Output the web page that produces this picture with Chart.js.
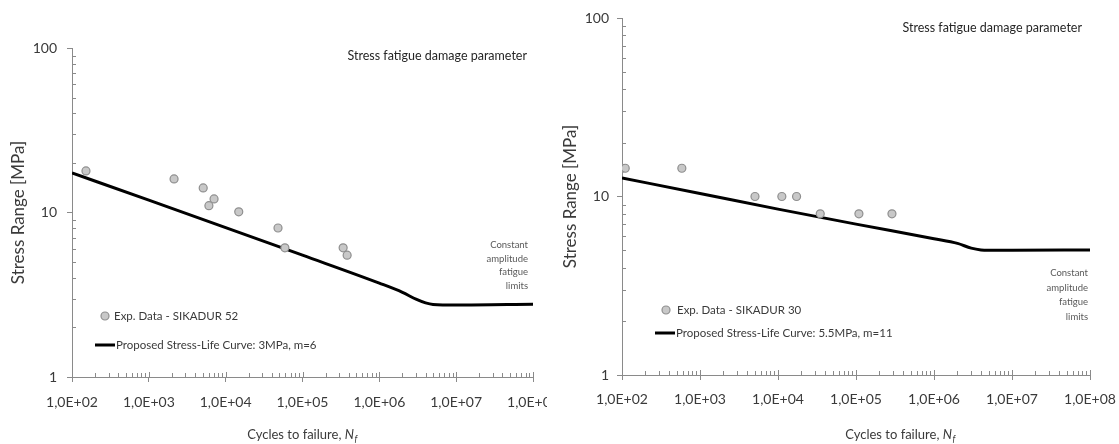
<!DOCTYPE html>
<html><head><meta charset="utf-8">
<script src="https://cdn.jsdelivr.net/npm/chart.js@4.4.1/dist/chart.umd.min.js"></script>
<style>
html,body{margin:0;padding:0;background:#fff;width:1119px;height:444px;overflow:hidden}
#wl{position:absolute;left:0;top:0;width:547px;height:444px;overflow:hidden}
#wr{position:absolute;left:560px;top:0;width:559px;height:444px}
canvas{display:block}
</style></head><body>
<div id="wl"><canvas id="cl" width="560" height="444"></canvas></div>
<div id="wr"><canvas id="cr" width="559" height="444"></canvas></div>
<script>
// ---- data ----
const xTickValues = [1e2, 1e3, 1e4, 1e5, 1e6, 1e7, 1e8];
const xTickLabels = ['1,0E+02', '1,0E+03', '1,0E+04', '1,0E+05', '1,0E+06', '1,0E+07', '1,0E+08'];
const yTickValues = [1, 10, 100];
const yTickLabels = ['1', '10', '100'];

const leftExpCycles = [152, 2130, 5100, 7060, 6050, 14800, 48000, 59000, 338000, 381000];
const leftExpStress = [17.9, 16.0, 14.1, 12.1, 11.0, 10.1, 8.05, 6.1, 6.1, 5.5];
const leftCurveCycles = [1e2, 1e3, 1e4, 1e5, 1e6, 2e6, 3e6, 4e6, 5e6, 1e7, 1e8];
const leftCurveStress = [17.4, 11.9, 8.1, 5.5, 3.72, 3.27, 2.97, 2.82, 2.76, 2.74, 2.77];

const rightExpCycles = [100, 110, 585, 5070, 11200, 17300, 34800, 109000, 289000];
const rightExpStress = [14.4, 14.4, 14.4, 10.0, 10.0, 10.0, 8.0, 8.0, 8.0];
const rightCurveCycles = [1e2, 1e3, 1e4, 1e5, 1e6, 2e6, 3e6, 4e6, 5e6, 1e7, 1e8];
const rightCurveStress = [12.7, 10.4, 8.5, 7.0, 5.8, 5.46, 5.14, 5.02, 5.0, 5.0, 5.02];

const leftLabels = ['Exp. Data - SIKADUR 52', 'Proposed Stress-Life Curve: 3MPa, m=6'];
const rightLabels = ['Exp. Data - SIKADUR 30', 'Proposed Stress-Life Curve: 5.5MPa, m=11'];

// ---- style ----
const FONT = 'Lato, "Open Sans", sans-serif';
const AXIS = '#8a8a8a';
const TXT = '#3a3a3a';

function isPow10(v){ const l = Math.log10(v); return Math.abs(l - Math.round(l)) < 1e-9; }
function logTicks(min, max){
  const out = [];
  for (let e = Math.round(Math.log10(min)); e <= Math.round(Math.log10(max)); e++){
    for (let s = 1; s <= 9; s++){
      const v = s * Math.pow(10, e);
      if (v >= min * 0.9999 && v <= max * 1.0001) out.push(v);
    }
  }
  return out;
}
function labelFor(values, labels, v){
  for (let i = 0; i < values.length; i++) if (Math.abs(values[i] - v) / values[i] < 1e-6) return labels[i];
  return '';
}

const decor = {
  id: 'decor',
  afterDraw(chart, args, o){
    const ctx = chart.ctx;
    const xs = chart.scales.x, ys = chart.scales.y;
    ctx.save();
    // inner tick marks
    ctx.strokeStyle = AXIS; ctx.lineWidth = 1;
    xs.ticks.forEach(t => {
      const px = Math.round(xs.getPixelForValue(t.value)) + 0.5;
      const len = isPow10(t.value) ? 5 : 4;
      ctx.beginPath(); ctx.moveTo(px, xs.top); ctx.lineTo(px, xs.top - len); ctx.stroke();
    });
    ys.ticks.forEach(t => {
      if (isPow10(t.value)) return;
      const py = Math.round(ys.getPixelForValue(t.value)) + 0.5;
      ctx.beginPath(); ctx.moveTo(ys.right, py); ctx.lineTo(ys.right + 4, py); ctx.stroke();
    });
    // title text
    ctx.fillStyle = '#262626';
    ctx.font = '12.5px ' + FONT;
    ctx.textAlign = 'right'; ctx.textBaseline = 'middle';
    ctx.fillText(o.title.text, o.title.x, o.title.y);
    // note
    ctx.fillStyle = '#595959';
    ctx.font = '9.5px ' + FONT;
    o.note.lines.forEach((l, i) => ctx.fillText(l, o.note.x, o.note.y + i * o.note.dy));
    // legend
    const d0 = chart.data.datasets[0], d1 = chart.data.datasets[1];
    const L = o.legend;
    ctx.beginPath(); ctx.arc(L.mx, L.my, 4, 0, Math.PI * 2);
    ctx.fillStyle = d0.backgroundColor; ctx.fill();
    ctx.strokeStyle = d0.borderColor; ctx.lineWidth = d0.borderWidth; ctx.stroke();
    ctx.beginPath(); ctx.moveTo(L.lx0, L.ly); ctx.lineTo(L.lx1, L.ly);
    ctx.strokeStyle = d1.borderColor; ctx.lineWidth = d1.borderWidth; ctx.stroke();
    ctx.fillStyle = TXT; ctx.font = '11.5px ' + FONT; ctx.textAlign = 'left';
    ctx.fillText(d0.label, L.tx1, L.my);
    ctx.fillText(d1.label, L.tx2, L.ly);
    // x axis title with italic N_f
    const X = o.xtitle;
    const part1 = 'Cycles to failure, ';
    ctx.font = '13px ' + FONT;
    const w1 = ctx.measureText(part1).width;
    ctx.font = 'italic 13px ' + FONT;
    const w2 = ctx.measureText('N').width;
    ctx.font = 'italic 9px ' + FONT;
    const w3 = ctx.measureText('f').width;
    let sx = X.x - (w1 + w2 + w3) / 2;
    ctx.fillStyle = TXT;
    ctx.font = '13px ' + FONT; ctx.fillText(part1, sx, X.y);
    ctx.font = 'italic 13px ' + FONT; ctx.fillText('N', sx + w1, X.y);
    ctx.font = 'italic 9px ' + FONT; ctx.fillText('f', sx + w1 + w2 + 0.5, X.y + 4);
    ctx.restore();
  }
};

function makeChart(id, exX, exY, cvX, cvY, labels, cfg){
  const scatter = exX.map((v, i) => ({x: v, y: exY[i]}));
  const curve = cvX.map((v, i) => ({x: v, y: cvY[i]}));
  return new Chart(document.getElementById(id), {
    type: 'scatter',
    data: { datasets: [
      { label: labels[0], data: scatter, backgroundColor: '#c8c8c8', borderColor: '#8f8f8f', borderWidth: 1.2, pointRadius: 4, order: 1 },
      { label: labels[1], data: curve, showLine: true, borderColor: '#000', backgroundColor: '#000', borderWidth: 3, pointRadius: 0, cubicInterpolationMode: 'monotone', order: 2 }
    ]},
    options: {
      responsive: false, animation: false, devicePixelRatio: 1,
      layout: { padding: { left: 0, top: cfg.top, right: cfg.right, bottom: 0 } },
      plugins: { legend: { display: false }, tooltip: { enabled: false }, decor: cfg.decor },
      scales: {
        x: {
          type: 'logarithmic', min: 1e2, max: 1e8,
          afterBuildTicks: s => { s.ticks = logTicks(1e2, 1e8).map(v => ({value: v, major: isPow10(v)})); },
          afterFit: s => { s.height = cfg.xh; s.paddingLeft = 0; s.paddingRight = 0; s.paddingTop = 0; s.paddingBottom = 0; },
          border: { display: true, color: AXIS, width: 1 },
          grid: { display: true, drawOnChartArea: false, drawTicks: true, tickLength: 5,
                  tickColor: c => (c.tick && isPow10(c.tick.value)) ? AXIS : 'rgba(0,0,0,0)' },
          ticks: { autoSkip: false, maxRotation: 0, minRotation: 0, padding: cfg.xpad, color: TXT,
                   font: { family: FONT, size: 14 },
                   callback: v => labelFor(xTickValues, xTickLabels, v) }
        },
        y: {
          type: 'logarithmic', min: 1, max: 100,
          afterBuildTicks: s => { s.ticks = logTicks(1, 100).map(v => ({value: v, major: isPow10(v)})); },
          afterFit: s => { s.width = cfg.yw; s.paddingLeft = 0; s.paddingRight = 0; s.paddingTop = 0; s.paddingBottom = 0; },
          border: { display: true, color: AXIS, width: 1 },
          grid: { display: true, drawOnChartArea: false, drawTicks: true, tickLength: 5,
                  tickColor: c => (c.tick && isPow10(c.tick.value)) ? AXIS : 'rgba(0,0,0,0)' },
          title: { display: true, text: 'Stress Range [MPa]', color: TXT, font: { family: FONT, size: 17 }, padding: { top: cfg.ytp, bottom: 0 } },
          ticks: { autoSkip: false, padding: cfg.ypad, color: TXT, font: { family: FONT, size: 14 },
                   callback: v => labelFor(yTickValues, yTickLabels, v) }
        }
      }
    },
    plugins: [decor]
  });
}

makeChart('cl', leftExpCycles, leftExpStress, leftCurveCycles, leftCurveStress, leftLabels, {
  top: 48, right: 27, xh: 67, yw: 72, xpad: 12, ypad: 10, ytp: 8,
  decor: {
    title: { text: 'Stress fatigue damage parameter', x: 527, y: 56 },
    note: { lines: ['Constant', 'amplitude', 'fatigue', 'limits'], x: 528, y: 245, dy: 13.5 },
    legend: { mx: 105, my: 316, tx1: 114, lx0: 95, lx1: 115, ly: 345, tx2: 116 },
    xtitle: { x: 302, y: 435 }
  }
});
makeChart('cr', rightExpCycles, rightExpStress, rightCurveCycles, rightCurveStress, rightLabels, {
  top: 18, right: 29, xh: 69, yw: 62, xpad: 11, ypad: 8, ytp: 0,
  decor: {
    title: { text: 'Stress fatigue damage parameter', x: 522, y: 28 },
    note: { lines: ['Constant', 'amplitude', 'fatigue', 'limits'], x: 528, y: 273, dy: 14.5 },
    legend: { mx: 106, my: 310, tx1: 117, lx0: 95, lx1: 115, ly: 333, tx2: 116 },
    xtitle: { x: 340, y: 435 }
  }
});
</script>
</body></html>
